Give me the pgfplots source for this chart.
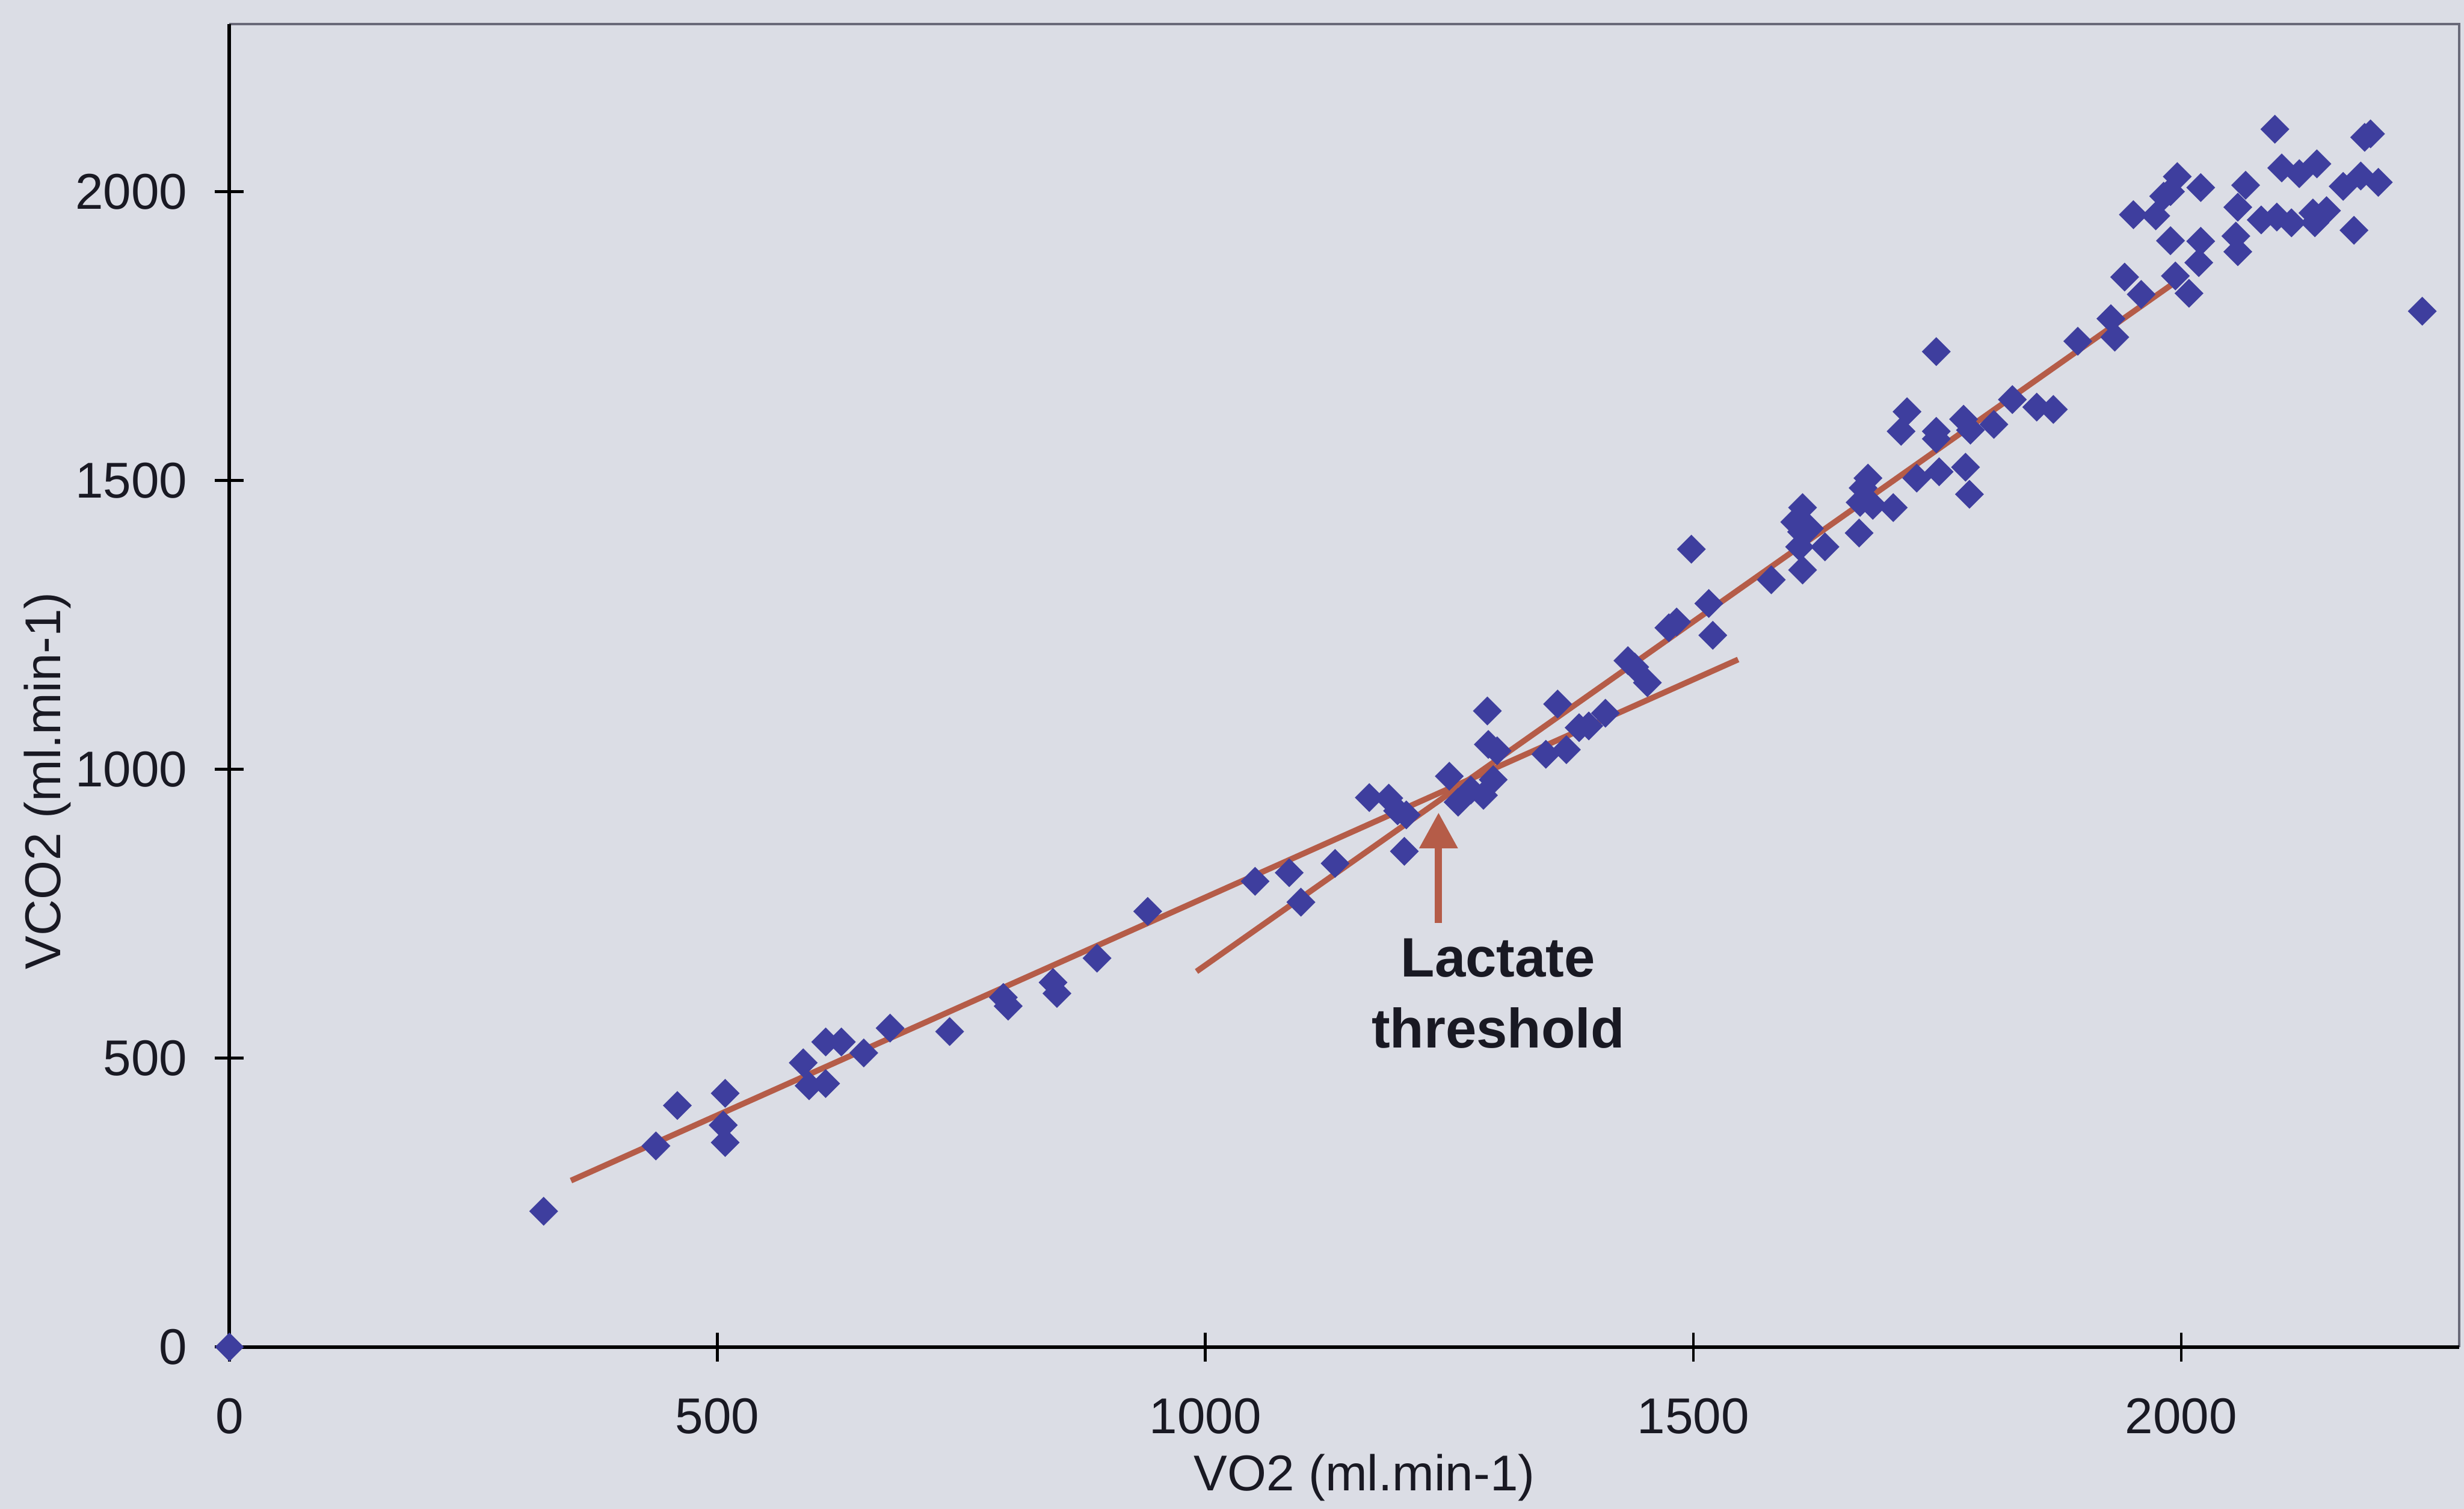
\documentclass[border=0pt]{standalone}
\usepackage{pgfplots}
\pgfplotsset{compat=1.18}
\usepackage{pgfplotstable}
\usepackage{fontspec}
\setmainfont{Liberation Sans}
\usetikzlibrary{arrows.meta}
\definecolor{bg}{RGB}{219,221,229}
\definecolor{pt}{RGB}{62,62,158}
\definecolor{ln}{RGB}{181,92,72}
\definecolor{framec}{RGB}{105,105,120}
\definecolor{txt}{RGB}{25,25,35}

\pgfplotstableread{
x y
0 0
322 235
437 348
459 418
508 439
506 384
508 354
588 492
594 452
611 456
611 528
627 528
650 509
677 552
738 546
793 605
798 590
844 631
848 612
889 673
941 754
1051 806
1086 821
1098 770
1133 837
1168 951
1188 950
1197 928
1206 921
1204 858
1250 988
1259 943
1272 964
1285 955
1295 982
1289 1101
1290 1043
1299 1032
1349 1026
1370 1034
1361 1113
1383 1072
1393 1075
1410 1097
1433 1188
1440 1177
1453 1150
1475 1245
1483 1255
1498 1381
1516 1287
1520 1232
1580 1328
1612 1345
1612 1453
1604 1428
1611 1411
1619 1417
1609 1385
1635 1385
1670 1409
1679 1504
1674 1487
1671 1462
1684 1457
1705 1453
1719 1619
1713 1585
1749 1723
1749 1585
1749 1572
1729 1504
1752 1515
1779 1523
1783 1476
1777 1606
1784 1587
1808 1597
1827 1640
1852 1627
1869 1623
1894 1741
1928 1780
1932 1748
1942 1852
1959 1822
1994 1854
2008 1824
1951 1960
1974 1958
1982 1992
1989 2000
1996 2026
2020 2007
1989 1915
2020 1914
2018 1877
2058 1973
2066 2011
2056 1923
2058 1896
2096 2108
2103 2041
2121 2031
2139 2048
2082 1951
2098 1956
2113 1946
2135 1963
2149 1967
2137 1946
2166 2009
2184 2027
2202 2016
2188 2094
2194 2100
2177 1933
2247 1793
}\vcodata

\begin{document}
\begin{tikzpicture}
\path[use as bounding box, fill=bg] (-43.8pt,-30.9pt) rectangle (426.6pt,257.1pt);
\begin{axis}[
  scale only axis,
  width=425.7pt, height=252.5pt,
  xmin=0, xmax=2285, ymin=0, ymax=2290,
  clip=false,
  axis line style={draw=none},
  xtick={0,500,1000,1500,2000},
  ytick={0,500,1000,1500,2000},
  xtick pos=left, ytick pos=left,
  tick align=center,
  major tick length=5.5pt,
  tick style={black, line width=0.5pt},
  /pgf/number format/assume math mode=true,
  /pgf/number format/set thousands separator={},
  tick label style={font=\fontsize{9.6}{11}\selectfont, text=txt},
  yticklabel style={anchor=east, inner sep=0pt, xshift=-5.1pt},
  xticklabel style={anchor=north, inner sep=0pt, yshift=-6.9pt},
  xlabel={VO2 (ml.min-1)},
  ylabel={VCO2 (ml.min-1)},
  label style={font=\fontsize{9.6}{11}\selectfont, text=txt},
  xlabel style={at={(axis description cs:0.509,-0.0986)}, anchor=center},
  ylabel style={at={(axis description cs:-0.0817,0.428)}, anchor=center},
]
\addplot[only marks, mark=square*, mark size=1.75pt,
  mark options={rotate=45, fill=pt, draw=pt}] table[x=x, y=y] {\vcodata};
\addplot[ln, line width=1.1pt, no marks] coordinates {(350,288) (1546,1190)};
\addplot[ln, line width=1.1pt, no marks] coordinates {(991,650) (1992,1841)};
\draw[framec, line width=0.5pt] (rel axis cs:0,1) -- (rel axis cs:1,1) -- (rel axis cs:1,0);
\draw[black, line width=0.7pt] (rel axis cs:0,1) -- (rel axis cs:0,0) -- (rel axis cs:1,0);
\draw[ln, line width=1.4pt, -{Triangle[width=7pt,length=6.8pt]}] (axis cs:1239,734) -- (axis cs:1239,925);
\node[font=\bfseries\fontsize{10.6}{13.5}\selectfont, align=center, text=txt] at (axis cs:1300,612) {Lactate\\threshold};
\end{axis}
\end{tikzpicture}
\end{document}
